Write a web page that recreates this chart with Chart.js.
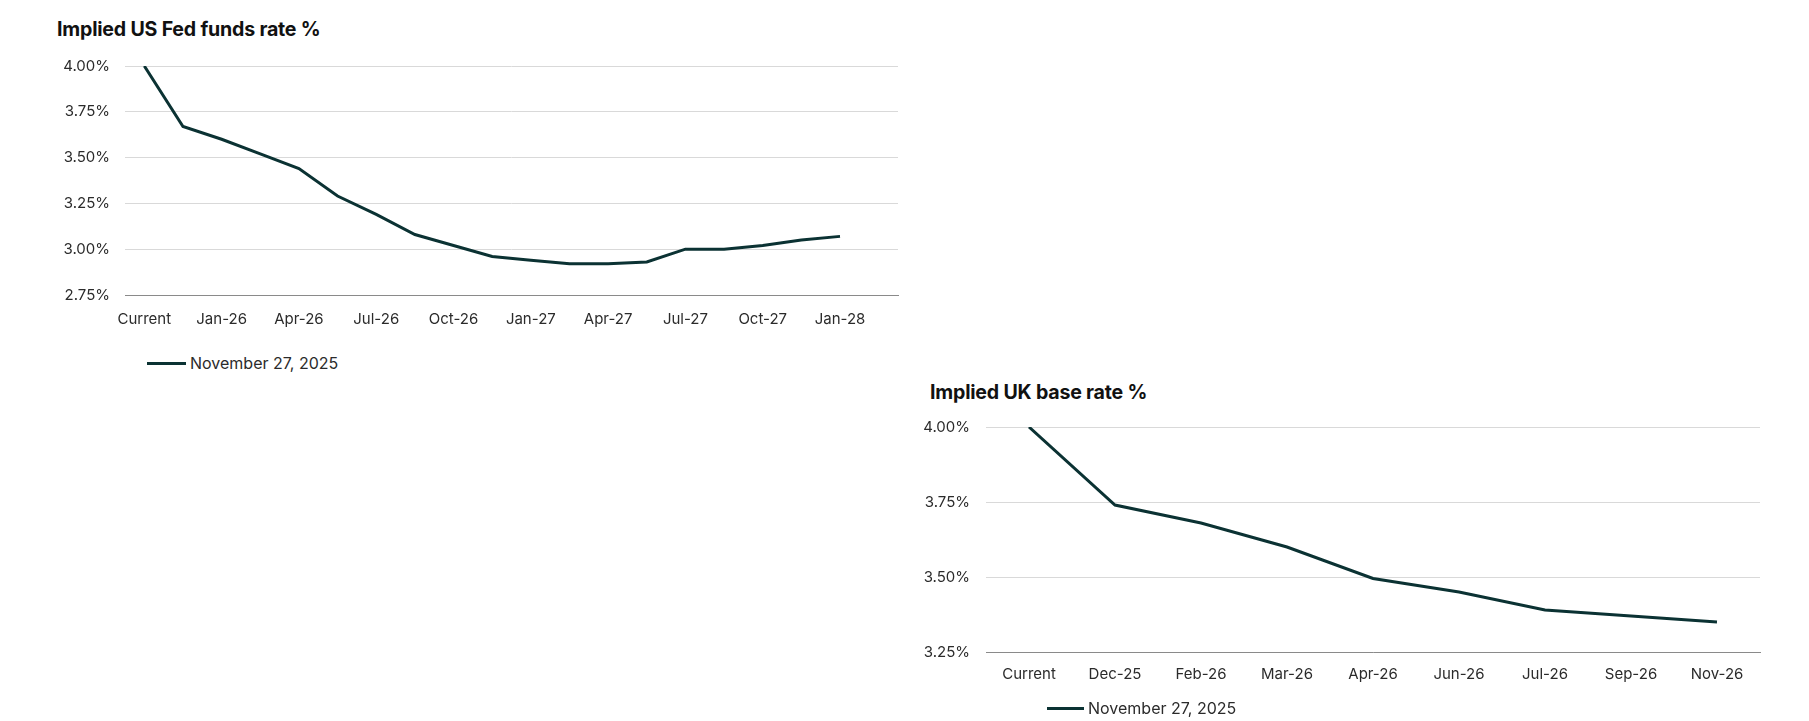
<!DOCTYPE html>
<html>
<head>
<meta charset="utf-8">
<script src="https://cdn.jsdelivr.net/npm/chart.js@4.4.1/dist/chart.umd.min.js"></script>
<style>
  body { margin: 0; background: #fff; width: 1809px; height: 721px; position: relative; overflow: hidden; font-family: Inter, "Liberation Sans", sans-serif; }
  .title { position: absolute; font-weight: 700; font-size: 19.6px; color: #111; white-space: nowrap; letter-spacing: -0.2px; }
  .legend { position: absolute; font-size: 16px; color: #2b2b2b; white-space: nowrap; display: flex; align-items: center; }
  .legend i { display: inline-block; height: 3px; background: #0b3233; margin-right: 4px; }
  .box { position: absolute; }
</style>
</head>
<body>
<div class="title" style="left:57px; top:17px;">Implied US Fed funds rate %</div>
<div class="box" style="left:0; top:40px; width:920px; height:300px;"><canvas id="chart-fed"></canvas></div>
<div class="legend" style="left:147px; top:353px;"><i style="width:39px"></i>November 27, 2025</div>

<div class="title" style="left:930px; top:380px;">Implied UK base rate %</div>
<div class="box" style="left:880px; top:400px; width:900px; height:300px;"><canvas id="chart-uk"></canvas></div>
<div class="legend" style="left:1047px; top:698px;"><i style="width:37px"></i>November 27, 2025</div>

<script>
  // Données - taux implicites
  const fedLabels = ['Current', 'Dec-25', 'Jan-26', 'Mar-26', 'Apr-26', 'Jun-26', 'Jul-26', 'Sep-26', 'Oct-26',
    'Dec-26', 'Jan-27', 'Mar-27', 'Apr-27', 'Jun-27', 'Jul-27', 'Sep-27', 'Oct-27', 'Dec-27', 'Jan-28', 'Mar-28'];
  const fedValues = [4.00, 3.67, 3.60, 3.52, 3.44, 3.29, 3.19, 3.08, 3.02,
    2.96, 2.94, 2.92, 2.92, 2.93, 3.00, 3.00, 3.02, 3.05, 3.07, null];
  const fedTicks = { min: 2.75, max: 4.00, step: 0.25 };

  const ukLabels = ['Current', 'Dec-25', 'Feb-26', 'Mar-26', 'Apr-26', 'Jun-26', 'Jul-26', 'Sep-26', 'Nov-26'];
  const ukValues = [4.00, 3.74, 3.68, 3.60, 3.495, 3.45, 3.39, 3.37, 3.35];
  const ukTicks = { min: 3.25, max: 4.00, step: 0.25 };

  const seriesName = 'November 27, 2025';
  const lineColor = '#0b3233';

  function makeChart(id, labels, values, range, opts) {
    const ctx = document.getElementById(id);
    return new Chart(ctx, {
      type: 'line',
      data: {
        labels: labels,
        datasets: [{
          label: seriesName,
          data: values,
          borderColor: lineColor,
          borderWidth: 3,
          pointRadius: 0,
          tension: 0,
          fill: false
        }]
      },
      options: {
        responsive: true,
        maintainAspectRatio: false,
        animation: false,
        layout: { padding: { top: opts.top, right: opts.right, left: 0, bottom: 0 } },
        plugins: { legend: { display: false }, tooltip: { enabled: false } },
        scales: {
          x: {
            offset: true,
            grid: { display: false },
            border: { display: true, color: '#8a8a8a', width: 1 },
            ticks: {
              autoSkip: false,
              maxRotation: 0,
              padding: opts.xPad,
              color: '#2b2b2b',
              font: { family: 'Inter', size: 15 },
              callback: function (val, i) {
                return (i % opts.every === 0) ? this.getLabelForValue(val) : '';
              }
            },
            afterFit: function (scale) { scale.height = opts.xHeight; }
          },
          y: {
            min: range.min,
            max: range.max,
            grid: { color: '#d9d9d9', lineWidth: 1, drawTicks: false },
            border: { display: false },
            ticks: {
              stepSize: range.step,
              padding: opts.yPad,
              color: '#2b2b2b',
              font: { family: 'Inter', size: 15 },
              callback: v => v.toFixed(2) + '%'
            },
            afterFit: function (scale) { scale.width = opts.yWidth; }
          }
        }
      }
    });
  }

  makeChart('chart-fed', fedLabels, fedValues, fedTicks,
    { top: 26, right: 22, xPad: 7, xHeight: 45, yPad: 15, yWidth: 125, every: 2 });
  makeChart('chart-uk', ukLabels, ukValues, ukTicks,
    { top: 27, right: 20, xPad: 5, xHeight: 48, yPad: 16, yWidth: 106, every: 1 });
</script>
</body>
</html>
